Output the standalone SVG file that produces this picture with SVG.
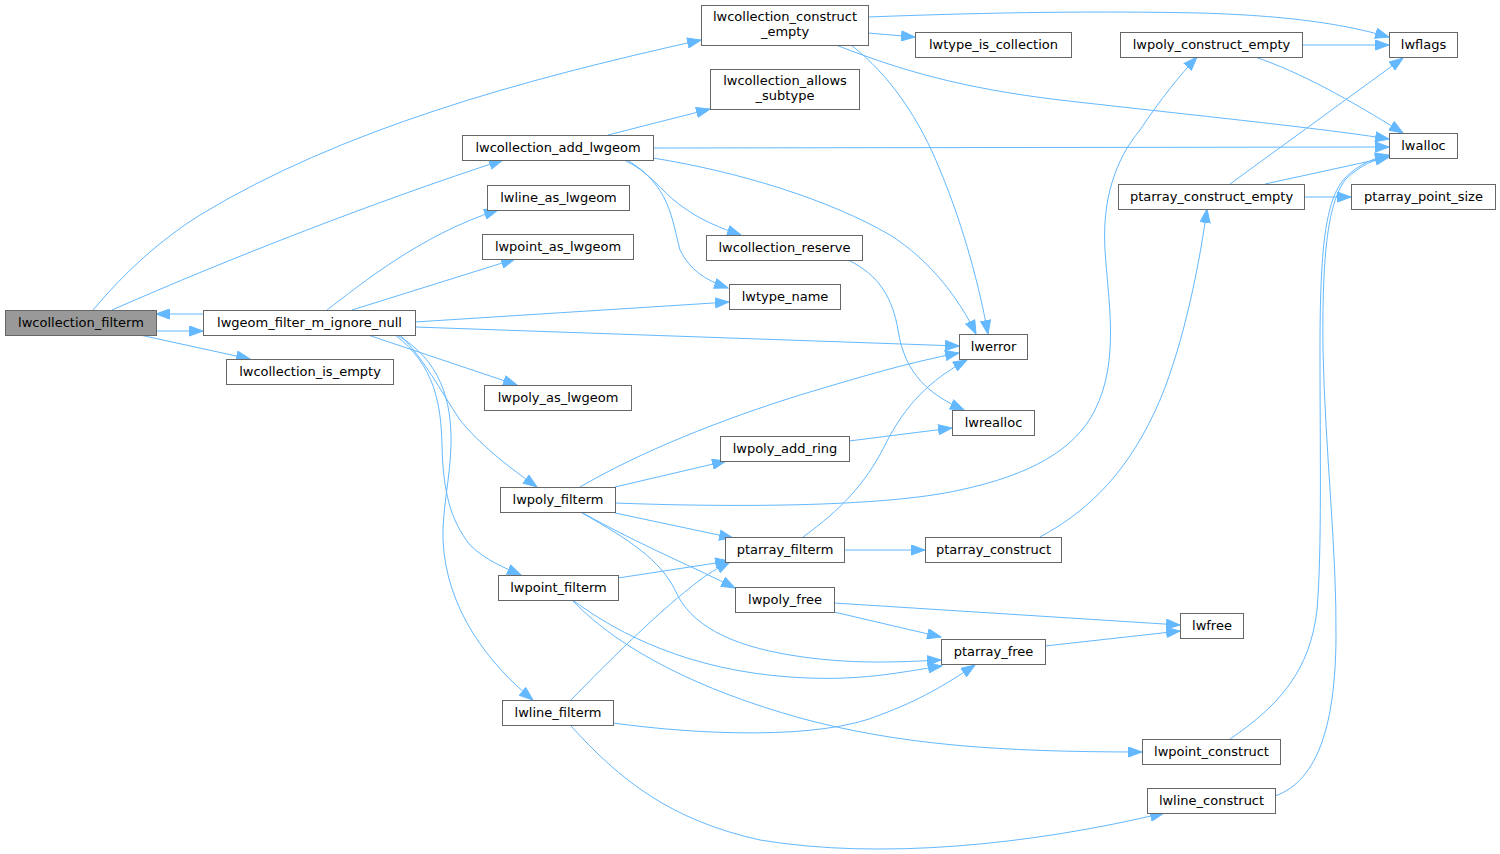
<svg xmlns="http://www.w3.org/2000/svg" width="1500" height="854" viewBox="0 0 1500 854">
<style>
.n rect{fill:#fff;stroke:#666;stroke-width:1}
.n.root rect{fill:#999}
.n text{font-family:"DejaVu Sans","Noto Sans",sans-serif;font-size:13px;fill:#000;text-anchor:middle}
.e path{fill:none;stroke:#63b8ff;stroke-width:1;marker-end:url(#ah)}
</style>
<defs>
<marker id="ah" markerUnits="userSpaceOnUse" markerWidth="15" markerHeight="11" viewBox="0 0 15 11" refX="14" refY="5.5" orient="auto">
<path d="M0.5,0.5 L14,5.5 L0.5,10.5 z" fill="#63b8ff" stroke="#63b8ff" stroke-width="1"/>
</marker>
</defs>
<rect width="1500" height="854" fill="#fff"/>
<g id="edges" class="e">
<path d="M93,310 C125,272 160,240 200,215 C340,130 520,80 701,40"/>
<path d="M112,310 C230,258 380,200 503,160"/>
<path d="M203,314 L156,314"/>
<path d="M156,331 L203,331"/>
<path d="M140,335 L250,359"/>
<path d="M327,310 C360,285 420,235 498,210"/>
<path d="M352,310 L515,259"/>
<path d="M415,322 L729,302"/>
<path d="M415,327 L959,346"/>
<path d="M368,335 L517,385"/>
<path d="M400,335 C425,360 440,390 460,420 C480,445 510,468 537,487"/>
<path d="M395,335 C435,365 441,405 442,445 C443,490 450,520 470,545 C485,560 505,568 521,575"/>
<path d="M397,335 C440,360 452,400 451,445 C450,480 442,510 443,540 C446,610 490,665 533,700"/>
<path d="M868,17 C1000,12 1100,11 1200,13 C1300,16 1350,26 1389,37"/>
<path d="M868,33 L915,37"/>
<path d="M851,45 C890,75 920,120 940,170 C965,230 980,290 988,334"/>
<path d="M836,45 C900,70 960,88 1060,100 C1200,116 1320,128 1389,139"/>
<path d="M608,135 L710,109"/>
<path d="M653,148 L1389,147"/>
<path d="M653,158 C740,172 830,200 890,235 C930,260 960,300 976,334"/>
<path d="M624,160 C650,172 660,190 680,205 C700,220 720,228 741,235"/>
<path d="M627,160 C670,185 672,220 680,250 C690,270 705,280 728,288"/>
<path d="M848,260 C880,275 893,300 898,330 C905,375 930,395 964,410"/>
<path d="M1302,45 L1389,45"/>
<path d="M1255,57 C1300,72 1350,100 1403,133"/>
<path d="M1230,184 L1403,58"/>
<path d="M1265,184 L1389,157"/>
<path d="M1304,197 L1351,197"/>
<path d="M580,487 C640,452 720,420 800,395 C860,377 910,362 959,353"/>
<path d="M615,487 L726,461"/>
<path d="M615,503 C720,507 880,508 960,490 C1030,475 1075,450 1095,410 C1120,360 1108,300 1105,250 C1102,200 1115,160 1140,130 C1160,100 1180,75 1197,57"/>
<path d="M615,513 L733,538"/>
<path d="M581,512 C640,545 700,570 735,588"/>
<path d="M582,513 C630,540 660,560 675,590 C690,625 730,645 790,655 C850,665 900,662 941,660"/>
<path d="M849,441 L952,428"/>
<path d="M803,537 C840,510 865,485 885,445 C905,405 930,380 967,360"/>
<path d="M844,550 L925,550"/>
<path d="M1040,537 C1090,510 1130,470 1160,400 C1185,340 1200,260 1207,209"/>
<path d="M618,578 L729,561"/>
<path d="M574,601 C620,635 690,670 790,677 C860,682 900,672 942,666"/>
<path d="M573,601 C620,650 700,690 800,718 C900,745 1000,752 1142,752"/>
<path d="M834,603 L1180,625"/>
<path d="M834,612 L941,637"/>
<path d="M1045,646 L1180,631"/>
<path d="M571,700 C610,660 660,610 700,580 C712,571 722,566 730,562"/>
<path d="M613,723 C700,735 820,740 880,715 C920,700 945,685 975,665"/>
<path d="M571,726 C620,780 670,820 760,840 C880,860 1030,845 1164,813"/>
<path d="M1230,739 C1280,705 1310,670 1317,610 C1322,550 1320,450 1320,350 C1320,250 1325,200 1345,178 C1360,163 1375,158 1389,155"/>
<path d="M1275,796 C1320,780 1335,720 1336,640 C1337,550 1325,450 1323,350 C1322,260 1327,205 1345,180 C1360,165 1375,159 1389,157"/>
</g>
<g id="node_lwcollection_filterm" class="n root"><rect x="5.5" y="310.5" width="151" height="25"/><text x="81" y="326.5">lwcollection_filterm</text></g>
<g id="node_lwgeom_filter_m_ignore_null" class="n"><rect x="203.5" y="310.5" width="212" height="25"/><text x="309.5" y="326.5">lwgeom_filter_m_ignore_null</text></g>
<g id="node_lwcollection_is_empty" class="n"><rect x="226.5" y="359.5" width="167" height="25"/><text x="310" y="375.5">lwcollection_is_empty</text></g>
<g id="node_lwcollection_construct_empty" class="n"><rect x="701.5" y="5.5" width="167" height="40"/><text x="785" y="20.5">lwcollection_construct</text><text x="785" y="36">_empty</text></g>
<g id="node_lwcollection_allows_subtype" class="n"><rect x="710.5" y="69.5" width="149" height="40"/><text x="785" y="84.5">lwcollection_allows</text><text x="785" y="100">_subtype</text></g>
<g id="node_lwcollection_add_lwgeom" class="n"><rect x="462.5" y="135.5" width="191" height="25"/><text x="558" y="151.5">lwcollection_add_lwgeom</text></g>
<g id="node_lwline_as_lwgeom" class="n"><rect x="487.5" y="185.5" width="142" height="25"/><text x="558.5" y="201.5">lwline_as_lwgeom</text></g>
<g id="node_lwpoint_as_lwgeom" class="n"><rect x="482.5" y="234.5" width="151" height="25"/><text x="558" y="250.5">lwpoint_as_lwgeom</text></g>
<g id="node_lwcollection_reserve" class="n"><rect x="706.5" y="235.5" width="156" height="25"/><text x="784.5" y="251.5">lwcollection_reserve</text></g>
<g id="node_lwtype_name" class="n"><rect x="729.5" y="284.5" width="111" height="25"/><text x="785" y="300.5">lwtype_name</text></g>
<g id="node_lwerror" class="n"><rect x="959.5" y="334.5" width="68" height="25"/><text x="993.5" y="350.5">lwerror</text></g>
<g id="node_lwpoly_as_lwgeom" class="n"><rect x="484.5" y="385.5" width="147" height="25"/><text x="558" y="401.5">lwpoly_as_lwgeom</text></g>
<g id="node_lwtype_is_collection" class="n"><rect x="915.5" y="32.5" width="156" height="25"/><text x="993.5" y="48.5">lwtype_is_collection</text></g>
<g id="node_lwpoly_construct_empty" class="n"><rect x="1120.5" y="32.5" width="182" height="25"/><text x="1211.5" y="48.5">lwpoly_construct_empty</text></g>
<g id="node_lwflags" class="n"><rect x="1389.5" y="32.5" width="68" height="25"/><text x="1423.5" y="48.5">lwflags</text></g>
<g id="node_lwalloc" class="n"><rect x="1389.5" y="133.5" width="68" height="25"/><text x="1423.5" y="149.5">lwalloc</text></g>
<g id="node_ptarray_construct_empty" class="n"><rect x="1118.5" y="184.5" width="186" height="25"/><text x="1211.5" y="200.5">ptarray_construct_empty</text></g>
<g id="node_ptarray_point_size" class="n"><rect x="1351.5" y="184.5" width="144" height="25"/><text x="1423.5" y="200.5">ptarray_point_size</text></g>
<g id="node_lwrealloc" class="n"><rect x="952.5" y="410.5" width="82" height="25"/><text x="993.5" y="426.5">lwrealloc</text></g>
<g id="node_lwpoly_add_ring" class="n"><rect x="720.5" y="436.5" width="129" height="25"/><text x="785" y="452.5">lwpoly_add_ring</text></g>
<g id="node_lwpoly_filterm" class="n"><rect x="500.5" y="487.5" width="115" height="25"/><text x="558" y="503.5">lwpoly_filterm</text></g>
<g id="node_ptarray_filterm" class="n"><rect x="725.5" y="537.5" width="119" height="25"/><text x="785" y="553.5">ptarray_filterm</text></g>
<g id="node_ptarray_construct" class="n"><rect x="925.5" y="537.5" width="136" height="25"/><text x="993.5" y="553.5">ptarray_construct</text></g>
<g id="node_lwpoint_filterm" class="n"><rect x="498.5" y="575.5" width="120" height="25"/><text x="558.5" y="591.5">lwpoint_filterm</text></g>
<g id="node_lwpoly_free" class="n"><rect x="735.5" y="587.5" width="99" height="25"/><text x="785" y="603.5">lwpoly_free</text></g>
<g id="node_lwfree" class="n"><rect x="1180.5" y="613.5" width="63" height="25"/><text x="1212" y="629.5">lwfree</text></g>
<g id="node_ptarray_free" class="n"><rect x="941.5" y="639.5" width="104" height="25"/><text x="993.5" y="655.5">ptarray_free</text></g>
<g id="node_lwline_filterm" class="n"><rect x="502.5" y="700.5" width="111" height="25"/><text x="558" y="716.5">lwline_filterm</text></g>
<g id="node_lwpoint_construct" class="n"><rect x="1142.5" y="739.5" width="138" height="25"/><text x="1211.5" y="755.5">lwpoint_construct</text></g>
<g id="node_lwline_construct" class="n"><rect x="1147.5" y="788.5" width="128" height="25"/><text x="1211.5" y="804.5">lwline_construct</text></g>
</svg>
